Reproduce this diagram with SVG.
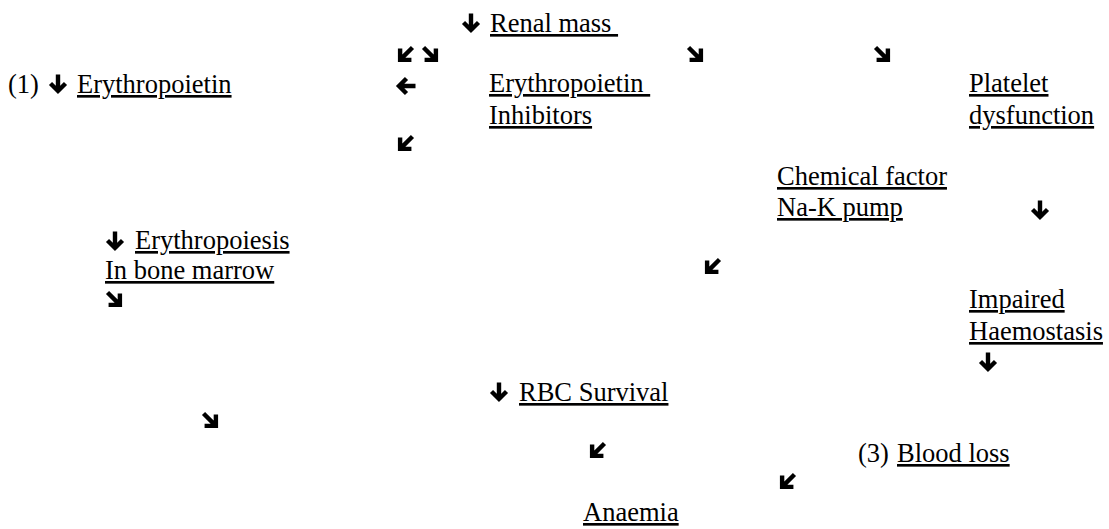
<svg xmlns="http://www.w3.org/2000/svg" xmlns:xlink="http://www.w3.org/1999/xlink" width="1109" height="529" viewBox="0 0 1109 529">
<style>
text{font-family:"Liberation Serif","Times New Roman",serif;font-size:26.5px;fill:#000}
.u{text-decoration:underline}
.arr{fill:none;stroke:#000;stroke-width:4.4;stroke-linejoin:miter;stroke-linecap:butt;stroke-miterlimit:10}
</style>
<defs>
<g id="a"><path class="arr" d="M0,-9.5 V7 M-7.5,-0.5 L0,7 L7.5,-0.5"/></g>
<g id="d"><path class="arr" d="M0,-12 V5.5 M-8,-2.5 L0,5.5 L8,-2.5"/></g>
</defs>
<rect width="1109" height="529" fill="#fff"/>
<g id="connectors">
<use xlink:href="#a" transform="translate(471,23)"/>
<use xlink:href="#d" transform="translate(404,56) rotate(45)"/>
<use xlink:href="#d" transform="translate(432,56) rotate(-45)"/>
<use xlink:href="#d" transform="translate(697,56) rotate(-45)"/>
<use xlink:href="#d" transform="translate(884,56) rotate(-45)"/>
<use xlink:href="#a" transform="translate(58,84)"/>
<use xlink:href="#a" transform="translate(406,86) rotate(90)"/>
<use xlink:href="#d" transform="translate(404,145) rotate(45)"/>
<use xlink:href="#a" transform="translate(1040,210)"/>
<use xlink:href="#a" transform="translate(115,241)"/>
<use xlink:href="#d" transform="translate(116,301) rotate(-45)"/>
<use xlink:href="#d" transform="translate(711,268) rotate(45)"/>
<use xlink:href="#a" transform="translate(988,362)"/>
<use xlink:href="#a" transform="translate(499,392)"/>
<use xlink:href="#d" transform="translate(212,422) rotate(-45)"/>
<use xlink:href="#d" transform="translate(596,452) rotate(45)"/>
<use xlink:href="#d" transform="translate(786,483) rotate(45)"/>
</g>
<g id="renal-mass"><text x="490" y="32" class="u">Renal mass&#160;</text></g>
<g id="erythropoietin"><text x="8" y="93">(1)</text><text x="77" y="93" class="u">Erythropoietin</text></g>
<g id="inhibitors"><text x="489" y="92" class="u">Erythropoietin&#160;</text><text x="489" y="124" class="u">Inhibitors</text></g>
<g id="platelet"><text x="969" y="92" class="u">Platelet</text><text x="969" y="124" class="u">dysfunction</text></g>
<g id="chemical"><text x="777" y="185" class="u">Chemical factor</text><text x="777" y="216" class="u">Na-K pump</text></g>
<g id="erythropoiesis"><text x="135" y="249" class="u">Erythropoiesis</text><text x="105" y="279" class="u">In bone marrow</text></g>
<g id="haemostasis"><text x="969" y="308" class="u">Impaired</text><text x="969" y="340" class="u">Haemostasis</text></g>
<g id="rbc"><text x="519" y="401" class="u">RBC Survival</text></g>
<g id="blood-loss"><text x="858" y="462">(3)</text><text x="897" y="462" class="u">Blood loss</text></g>
<g id="anaemia"><text x="583" y="521" class="u">Anaemia</text></g>
</svg>
